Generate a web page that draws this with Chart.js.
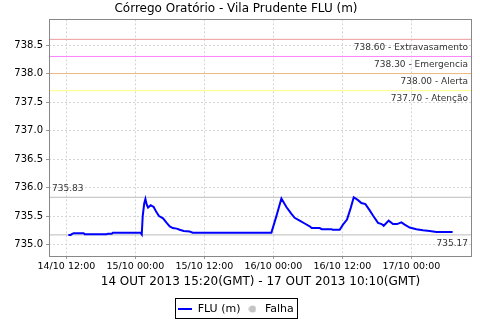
<!DOCTYPE html>
<html><head><meta charset="utf-8">
<script src="https://cdn.jsdelivr.net/npm/chart.js@4.4.0/dist/chart.umd.min.js"></script>
<style>html,body{margin:0;padding:0;background:#fff;}canvas{display:block;}</style>
</head><body>
<canvas id="c" width="480" height="320"></canvas>
<script>
const chartTitle = 'Córrego Oratório - Vila Prudente FLU (m)';
const xAxisTitle = '14 OUT 2013 15:20(GMT) - 17 OUT 2013 10:10(GMT)';
// time in hours since 14/10 00:00 (local)
const timeHours = [12.33,12.75,13.0,13.27,15.0,15.2,18.96,19.2,19.9,20.1,24.9,25.1,25.27,25.53,25.74,25.97,26.2,26.66,27.18,27.65,28.1,28.8,29.44,29.97,30.5,31.18,31.7,32.4,33.44,33.97,47.65,48.52,49.39,50.26,51.13,51.7,52.57,53.44,54.31,54.66,56.05,56.4,58.09,58.3,59.53,60.1,60.8,61.44,61.97,62.71,63.3,64.0,64.75,65.32,66.19,66.83,67.18,68.05,68.8,69.5,70.26,70.83,71.7,72.87,74.0,75.17,76.35,79.17];
const fluValues = [735.17,735.17,735.19,735.20,735.20,735.18,735.18,735.19,735.19,735.21,735.21,735.18,735.50,735.72,735.80,735.70,735.65,735.69,735.66,735.57,735.50,735.46,735.38,735.32,735.29,735.28,735.26,735.24,735.23,735.21,735.21,735.50,735.81,735.66,735.54,735.47,735.42,735.37,735.32,735.29,735.29,735.27,735.27,735.26,735.26,735.35,735.44,735.64,735.83,735.78,735.73,735.71,735.60,735.51,735.38,735.36,735.33,735.42,735.36,735.36,735.39,735.35,735.30,735.27,735.25,735.24,735.22,735.22];
const xTickValues = [12,24,36,48,60,72];
const xTickLabels = ['14/10 12:00','15/10 00:00','15/10 12:00','16/10 00:00','16/10 12:00','17/10 00:00'];
const yTickValues = [735.0,735.5,736.0,736.5,737.0,737.5,738.0,738.5];
const thresholdValues = [738.60,738.30,738.00,737.70];
const thresholdNames = ['Extravasamento','Emergencia','Alerta','Atenção'];
const thresholdColors = ['#f09a9a','#ff80ff','#ecb880','#ffff80'];
const maxValue = 735.83;
const minValue = 735.17;
const xRange = [8.97, 82.54];
const yRange = [734.80, 738.95];
const seriesLabel = 'FLU (m)';
const failLabel = 'Falha';

const FONT = 'DejaVu Sans';

function hline(v, color) {
  return { data: [{x: xRange[0], y: v}, {x: xRange[1], y: v}], borderColor: color, borderWidth: 1,
    pointRadius: 0, fill: false, showLine: true };
}

const lineImg = document.createElement('canvas');
lineImg.width = 14; lineImg.height = 2;
(function(){ const g = lineImg.getContext('2d'); g.fillStyle = '#0000ff'; g.fillRect(0,0,14,2); })();
const dotImg = document.createElement('canvas');
dotImg.width = 8; dotImg.height = 8;
(function(){ const g = dotImg.getContext('2d'); g.fillStyle = '#c4c4c4'; g.beginPath(); g.arc(4,4,3.6,0,Math.PI*2); g.fill(); })();

const datasets = [
  { label: seriesLabel, data: timeHours.map((h, i) => ({x: h, y: fluValues[i]})), borderColor: '#0000ff',
    borderWidth: 2, pointRadius: 0, fill: false, tension: 0 },
  { label: failLabel, data: [], pointRadius: 4, backgroundColor: '#c4c4c4', borderColor: '#c4c4c4' },
  ...thresholdValues.map((v, i) => hline(v, thresholdColors[i])),
  hline(maxValue, '#bcbcbc'),
  hline(minValue, '#bcbcbc')
];

const overlay = {
  id: 'overlay',
  afterDatasetsDraw(chart) {
    const ctx = chart.ctx, ys = chart.scales.y, a = chart.chartArea;
    ctx.save();
    ctx.font = '9px "' + FONT + '"';
    ctx.fillStyle = '#333';
    ctx.textBaseline = 'middle';
    ctx.textAlign = 'right';
    thresholdValues.forEach((v, i) => {
      ctx.fillText(v.toFixed(2) + ' - ' + thresholdNames[i], a.right - 4, ys.getPixelForValue(v) + 8.4);
    });
    ctx.fillText(minValue.toFixed(2), a.right - 4, ys.getPixelForValue(minValue) + 8.6);
    ctx.textAlign = 'left';
    ctx.fillText(maxValue.toFixed(2), a.left + 3, ys.getPixelForValue(maxValue) - 8.6);
    ctx.strokeStyle = '#888';
    ctx.lineWidth = 1;
    ctx.strokeRect(Math.round(a.left) + 0.5, Math.round(a.top) + 0.5, Math.round(a.right - a.left) - 1, Math.round(a.bottom - a.top));
    ctx.restore();
  },
  afterDraw(chart) {
    const lg = chart.legend;
    if (!lg || !lg.legendHitBoxes || !lg.legendHitBoxes.length) return;
    const hb = lg.legendHitBoxes;
    const first = hb[0], last = hb[hb.length - 1];
    const ctx = chart.ctx;
    ctx.save();
    ctx.strokeStyle = '#000';
    ctx.lineWidth = 1;
    const l = Math.round(first.left - 3) + 0.5, r = Math.round(last.left + last.width + 3) + 0.5;
    const t = Math.round(lg.top) - 0.5, b = 318.5;
    ctx.strokeRect(l, t, r - l, b - t);
    ctx.restore();
  }
};

new Chart(document.getElementById('c'), {
  type: 'scatter',
  data: { datasets },
  plugins: [overlay],
  options: {
    responsive: false,
    devicePixelRatio: 1,
    animation: false,
    showLine: true,
    layout: { padding: { left: 0, right: 8, top: 0, bottom: 0 } },
    plugins: {
      title: { display: true, text: chartTitle, color: '#000', font: { family: FONT, size: 12, weight: 'normal' },
        padding: { top: 1.5, bottom: 3.5 } },
      legend: {
        position: 'bottom', maxHeight: 21.5,
        labels: {
          usePointStyle: true, pointStyleWidth: 14, padding: 5, color: '#000',
          font: { family: FONT, size: 11 },
          generateLabels: () => [
            { text: seriesLabel, pointStyle: lineImg, fillStyle: '#0000ff', strokeStyle: '#0000ff', lineWidth: 0, hidden: false, datasetIndex: 0, fontColor: '#000' },
            { text: failLabel, pointStyle: dotImg, fillStyle: '#c4c4c4', strokeStyle: '#c4c4c4', lineWidth: 0, hidden: false, datasetIndex: 1, fontColor: '#000' }
          ]
        },
        onClick: () => {}
      },
      tooltip: { enabled: false }
    },
    scales: {
      x: {
        type: 'linear', min: xRange[0], max: xRange[1],
        afterBuildTicks: s => { s.ticks = xTickValues.map(v => ({ value: v })); },
        afterFit: s => { s.height = 42.5; },
        ticks: { autoSkip: false, maxRotation: 0, padding: 2, color: '#000', font: { family: FONT, size: 9.5 },
          callback: (v) => { const i = xTickValues.indexOf(v); return i >= 0 ? xTickLabels[i] : ''; } },
        grid: { color: '#d4d4d4', tickLength: 3, tickColor: '#999', tickBorderDash: [] },
        border: { display: false, dash: [2, 2] },
        title: { display: true, text: xAxisTitle, color: '#000', font: { family: FONT, size: 12 }, padding: { top: 0, bottom: 9 } }
      },
      y: {
        type: 'linear', min: yRange[0], max: yRange[1],
        afterBuildTicks: s => { s.ticks = yTickValues.map(v => ({ value: v })); },
        afterFit: s => { s.width = 49; },
        ticks: { padding: 3, color: '#000', font: { family: FONT, size: 10 }, callback: v => Number(v).toFixed(1) },
        grid: { color: '#d4d4d4', tickLength: 3, tickColor: '#999', tickBorderDash: [] },
        border: { display: false, dash: [2, 2] }
      }
    }
  }
});
</script>
</body></html>
